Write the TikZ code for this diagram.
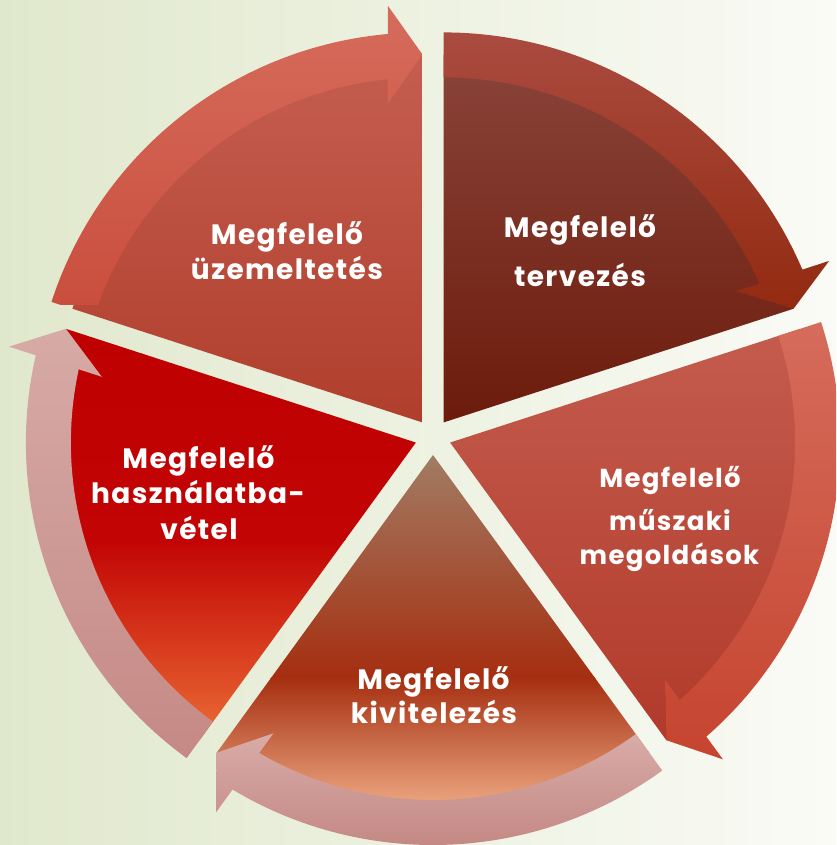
\documentclass[tikz,border=0pt]{standalone}
\usepackage{fontspec}
\setmainfont{Poppins}
\newfontfamily\labfont{Poppins}[LetterSpace=5]
\definecolor{bgl}{HTML}{E0E8CC}
\definecolor{bgr}{HTML}{FAFBF6}
\def\PiePath{(0,0) -- (72:368) arc[start angle=72,end angle=0,radius=368] -- cycle}
\def\BandPath{(72:390) arc[start angle=72,end angle=5.07,radius=390] -- (416.6,34.5) -- (368,0) -- (319,34.5) -- (5.74:345) arc[start angle=5.74,end angle=72,radius=345] -- cycle}
\begin{document}
\begin{tikzpicture}[x=1pt,y=1pt,
  lbl/.style={text=white, font=\labfont\fontsize{28}{33}\selectfont\bfseries, inner sep=0pt, anchor=base},
  lbls/.style={lbl, font=\labfont\fontsize{26}{31}\selectfont\bfseries}]
\useasboundingbox (-433,-408) rectangle (403,437);
\shade[left color=bgl, right color=bgr] (-433,-408) rectangle (403,437);
% 1 tervezes
\begin{scope}
 \clip[shift={(54:18)},rotate=18] \PiePath;
 \shade[top color={rgb,255:red,138;green,68;blue,58}, bottom color={rgb,255:red,108;green,27;blue,11}] (-433,383) rectangle (403,14);
\end{scope}
\begin{scope}
 \clip[shift={(54:18)},rotate=18] \BandPath;
 \shade[top color={rgb,255:red,170;green,75;blue,64}, bottom color={rgb,255:red,147;green,42;blue,16}] (-433,405) rectangle (403,127);
\end{scope}
% 2 muszaki
\begin{scope}
 \clip[shift={(-18:18)},rotate=-54] \PiePath;
 \shade[top color={rgb,255:red,196;green,92;blue,78}, bottom color={rgb,255:red,177;green,58;blue,42}] (-433,108) rectangle (403,-308);
\end{scope}
\begin{scope}
 \clip[shift={(-18:18)},rotate=-54] \BandPath;
 \shade[top color={rgb,255:red,214;green,108;blue,92}, bottom color={rgb,255:red,197;green,68;blue,47}] (-433,117) rectangle (403,-325);
\end{scope}
% 3 kivitelezes
\begin{scope}
 \clip[shift={(-90:18)},rotate=-126] \PiePath;
 \shade[top color={rgb,255:red,162;green,124;blue,100}, bottom color={rgb,255:red,165;green,46;blue,16}] (-433,-17) rectangle (403,-241);
 \shade[top color={rgb,255:red,165;green,46;blue,16}, bottom color={rgb,255:red,246;green,184;blue,144}] (-433,-240) rectangle (403,-387);
\end{scope}
\begin{scope}
 \clip[shift={(-90:18)},rotate=-126] \BandPath;
 \shade[top color={rgb,255:red,217;green,174;blue,170}, bottom color={rgb,255:red,196;green,136;blue,132}] (-433,-290) rectangle (403,-410);
\end{scope}
% 4 hasznalatba
\begin{scope}
 \clip[shift={(-162:18)},rotate=162] \PiePath;
 \shade[top color={rgb,255:red,191;green,0;blue,0}, bottom color={rgb,255:red,194;green,4;blue,4}] (-433,108) rectangle (403,-104);
 \shade[top color={rgb,255:red,194;green,4;blue,4}, bottom color={rgb,255:red,235;green,109;blue,53}] (-433,-103) rectangle (403,-305);
\end{scope}
\begin{scope}
 \clip[shift={(-162:18)},rotate=162] \BandPath;
 \shade[top color={rgb,255:red,215;green,171;blue,167}, bottom color={rgb,255:red,197;green,137;blue,133}] (-433,117) rectangle (403,-325);
\end{scope}
% 5 uzemeltetes
\begin{scope}
 \clip[shift={(126:18)},rotate=90] \PiePath;
 \shade[top color={rgb,255:red,197;green,94;blue,80}, bottom color={rgb,255:red,176;green,62;blue,44}] (-433,383) rectangle (403,14);
\end{scope}
\begin{scope}
 \clip[shift={(126:18)},rotate=90] \BandPath;
 \shade[top color={rgb,255:red,214;green,108;blue,92}, bottom color={rgb,255:red,202;green,78;blue,62}] (-433,432) rectangle (403,132);
\end{scope}
% labels
\node[lbl] (t5a) at (-146,192) {Megfelelő};
\node[lbl] (t5b) at (-146,157) {üzemeltetés};
\node[lbl] (t1a) at (147,199) {Megfelelő};
\node[lbl] (t1b) at (147,150) {tervezés};
\node[lbls] (t2a) at (237,-50.5) {Megfelelő};
\node[lbls] (t2b) at (237,-94) {műszaki};
\node[lbls] (t2c) at (236.5,-127) {megoldások};
\node[lbl] (t4a) at (-234.5,-32) {Megfelelő};
\node[lbl] (t4b) at (-235,-67) {használatba-};
\node[lbl] (t4c) at (-234,-102.5) {vétel};
\node[lbl] (t3a) at (0.5,-252) {Megfelelő};
\node[lbl] (t3b) at (1,-286.5) {kivitelezés};
\end{tikzpicture}
\end{document}
